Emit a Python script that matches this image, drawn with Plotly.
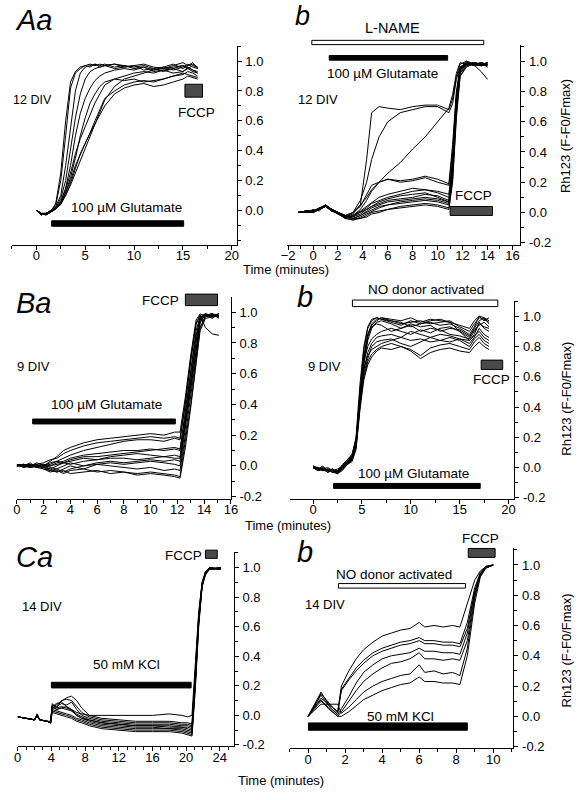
import plotly.graph_objects as go

W, H = 584, 800
FONT = "Liberation Sans, Arial, sans-serif"

# ---------------- DATA ----------------
# Panel Aa (12 DIV, 100 uM glutamate)
t_Aa = [0, 0.5, 1, 1.5, 2, 2.5, 3, 3.5, 4, 4.5, 5, 5.5, 6, 6.5, 7, 8, 9, 10, 11, 12, 13, 14, 15, 15.5, 16, 16.5]
y_Aa = [
    [0, -0.02, -0.03, -0.01, 0.05, 0.25, 0.6, 0.86, 0.93, 0.96, 0.97, 0.98, 0.97, 0.98, 0.97, 0.98, 0.96, 0.97, 0.98, 0.96, 0.95, 0.97, 0.99, 0.97, 0.98, 0.96],
    [0, -0.02, -0.02, 0.0, 0.04, 0.2, 0.5, 0.82, 0.92, 0.95, 0.97, 0.96, 0.98, 0.97, 0.98, 0.96, 0.97, 0.95, 0.96, 0.94, 0.96, 0.98, 0.95, 0.97, 0.99, 0.95],
    [0, -0.03, -0.02, 0.0, 0.03, 0.1, 0.3, 0.55, 0.8, 0.92, 0.96, 0.97, 0.98, 0.96, 0.97, 0.98, 0.97, 0.96, 0.97, 0.95, 0.96, 0.94, 0.96, 0.98, 0.96, 0.95],
    [0, -0.02, -0.03, -0.01, 0.02, 0.08, 0.2, 0.42, 0.62, 0.78, 0.88, 0.93, 0.95, 0.96, 0.97, 0.95, 0.96, 0.97, 0.94, 0.95, 0.93, 0.95, 0.97, 0.96, 0.94, 0.93],
    [0, -0.02, -0.02, 0.0, 0.02, 0.06, 0.15, 0.3, 0.5, 0.65, 0.75, 0.82, 0.87, 0.9, 0.92, 0.94, 0.95, 0.94, 0.96, 0.93, 0.94, 0.92, 0.93, 0.95, 0.93, 0.92],
    [0, -0.03, -0.02, -0.01, 0.01, 0.05, 0.12, 0.22, 0.35, 0.5, 0.62, 0.72, 0.78, 0.83, 0.86, 0.88, 0.87, 0.88, 0.86, 0.87, 0.88, 0.9, 0.92, 0.91, 0.9, 0.89],
    [0, -0.02, -0.03, 0.0, 0.02, 0.06, 0.14, 0.25, 0.38, 0.48, 0.56, 0.64, 0.72, 0.78, 0.84, 0.88, 0.9, 0.92, 0.93, 0.92, 0.94, 0.95, 0.93, 0.96, 0.94, 0.92],
    [0, -0.02, -0.02, -0.01, 0.01, 0.04, 0.1, 0.18, 0.28, 0.38, 0.45, 0.52, 0.58, 0.64, 0.7, 0.78, 0.82, 0.84, 0.85, 0.83, 0.84, 0.86, 0.88, 0.9, 0.89, 0.88],
    [0, -0.03, -0.02, 0.0, 0.02, 0.05, 0.1, 0.17, 0.25, 0.34, 0.42, 0.5, 0.58, 0.66, 0.74, 0.83, 0.88, 0.9, 0.92, 0.94, 0.95, 0.96, 0.97, 0.95, 0.97, 0.96],
    [0, -0.02, -0.03, -0.01, 0.01, 0.04, 0.12, 0.2, 0.3, 0.37, 0.44, 0.52, 0.6, 0.68, 0.75, 0.8, 0.84, 0.86, 0.87, 0.86, 0.88, 0.9, 0.91, 0.93, 0.92, 0.9],
]

# Panel Ab (12 DIV, L-NAME + glutamate)
t_Ab = [-1.2, -0.5, 0, 0.5, 1, 1.5, 2, 2.6, 3.2, 3.8, 4.3, 4.7, 5.3, 6, 7, 8, 9, 10, 10.9, 11.2, 11.5, 11.8, 12.3, 13, 13.5, 14]
y_Ab = [
    [0, 0.01, 0.0, 0.02, 0.04, 0.02, 0.0, -0.03, -0.01, 0.05, 0.35, 0.66, 0.7, 0.69, 0.68, 0.7, 0.71, 0.71, 0.68, 0.75, 0.9, 0.98, 1.0, 0.98, 0.99, 0.98],
    [0, 0.0, 0.01, 0.02, 0.05, 0.02, -0.01, -0.02, 0.0, 0.08, 0.2, 0.35, 0.5, 0.6, 0.66, 0.68, 0.7, 0.7, 0.66, 0.72, 0.88, 0.96, 0.99, 0.97, 0.93, 0.88],
    [0, 0.01, 0.0, 0.03, 0.04, 0.01, 0.0, -0.03, 0.0, 0.05, 0.1, 0.15, 0.2, 0.26, 0.33, 0.42, 0.5, 0.6, 0.69, 0.78, 0.92, 0.99, 0.98, 0.99, 0.97, 0.98],
    [0, 0.0, 0.02, 0.01, 0.05, 0.02, -0.01, -0.02, 0.0, 0.04, 0.12, 0.18, 0.2, 0.22, 0.21, 0.22, 0.24, 0.22, 0.19, 0.45, 0.8, 0.96, 0.99, 0.97, 0.98, 0.99],
    [0, 0.01, 0.0, 0.02, 0.04, 0.01, 0.0, -0.04, -0.02, 0.02, 0.08, 0.14, 0.2, 0.22, 0.2, 0.21, 0.23, 0.2, 0.18, 0.4, 0.78, 0.95, 1.0, 0.98, 0.97, 0.99],
    [0, 0.01, 0.01, 0.02, 0.05, 0.02, 0.0, -0.03, -0.03, 0.0, 0.03, 0.06, 0.08, 0.1, 0.12, 0.14, 0.15, 0.13, 0.1, 0.35, 0.75, 0.95, 0.98, 0.99, 0.98, 0.97],
    [0, 0.0, 0.01, 0.03, 0.04, 0.01, -0.01, -0.04, -0.02, 0.0, 0.02, 0.04, 0.06, 0.08, 0.09, 0.1, 0.12, 0.11, 0.08, 0.3, 0.72, 0.94, 0.99, 0.98, 0.99, 0.98],
    [0, 0.01, 0.0, 0.02, 0.05, 0.02, 0.0, -0.02, -0.04, -0.02, 0.0, 0.02, 0.04, 0.05, 0.07, 0.08, 0.09, 0.08, 0.06, 0.28, 0.7, 0.93, 0.98, 0.99, 0.97, 0.99],
    [0, 0.0, 0.01, 0.02, 0.04, 0.02, -0.01, -0.03, -0.05, -0.03, -0.01, 0.01, 0.03, 0.05, 0.06, 0.07, 0.08, 0.07, 0.05, 0.25, 0.68, 0.92, 0.97, 0.98, 0.99, 0.97],
    [0, 0.01, 0.0, 0.03, 0.05, 0.01, 0.0, -0.03, -0.04, -0.04, -0.02, 0.0, 0.01, 0.02, 0.04, 0.05, 0.06, 0.05, 0.03, 0.22, 0.65, 0.9, 0.96, 0.99, 0.98, 0.98],
    [0, 0.0, 0.01, 0.02, 0.04, 0.02, 0.0, -0.02, -0.03, -0.01, 0.02, 0.04, 0.07, 0.09, 0.11, 0.12, 0.13, 0.1, 0.07, 0.3, 0.73, 0.95, 0.99, 0.97, 0.98, 0.99],
    [0, 0.01, 0.01, 0.02, 0.05, 0.02, -0.01, -0.04, -0.05, -0.04, -0.03, -0.01, 0.0, 0.02, 0.03, 0.04, 0.05, 0.04, 0.02, 0.2, 0.62, 0.9, 0.97, 0.98, 0.97, 0.99],
    [0, 0.0, 0.0, 0.03, 0.04, 0.01, 0.0, -0.03, -0.02, 0.01, 0.04, 0.07, 0.1, 0.12, 0.14, 0.16, 0.15, 0.14, 0.12, 0.35, 0.76, 0.96, 0.99, 0.98, 0.99, 0.96],
    [0, 0.01, 0.0, 0.02, 0.05, 0.02, 0.0, -0.02, -0.04, -0.02, 0.01, 0.03, 0.05, 0.07, 0.08, 0.09, 0.1, 0.09, 0.07, 0.27, 0.7, 0.93, 0.98, 0.99, 0.98, 0.97],
]

# Panel Ba (9 DIV, glutamate)
t_Ba = [0, 0.5, 1, 1.5, 2, 2.5, 3, 3.5, 4, 5, 6, 7, 8, 9, 10, 11, 11.8, 12.2, 12.6, 13.0, 13.4, 13.7, 14.1, 14.6, 15.1]
y_Ba = [
    [0.01, 0.0, 0.02, -0.01, 0.0, 0.03, 0.06, 0.1, 0.12, 0.15, 0.17, 0.18, 0.19, 0.2, 0.21, 0.2, 0.22, 0.22, 0.45, 0.72, 0.95, 0.99, 0.97, 0.99, 0.98],
    [0.0, 0.01, 0.0, 0.01, 0.02, 0.04, 0.05, 0.08, 0.1, 0.13, 0.15, 0.16, 0.17, 0.18, 0.19, 0.18, 0.19, 0.18, 0.42, 0.7, 0.93, 0.98, 0.99, 0.96, 0.99],
    [0.01, -0.01, 0.0, 0.02, 0.0, 0.01, 0.03, 0.05, 0.07, 0.1, 0.12, 0.14, 0.16, 0.17, 0.17, 0.16, 0.18, 0.17, 0.4, 0.68, 0.92, 0.98, 0.9, 0.86, 0.85],
    [0.0, 0.01, -0.01, 0.0, 0.01, 0.0, 0.02, 0.03, 0.05, 0.07, 0.08, 0.09, 0.1, 0.1, 0.11, 0.1, 0.11, 0.1, 0.35, 0.62, 0.88, 0.97, 0.98, 0.99, 0.97],
    [0.0, 0.0, 0.01, -0.01, 0.0, 0.02, 0.03, 0.02, 0.04, 0.06, 0.06, 0.07, 0.08, 0.09, 0.1, 0.11, 0.12, 0.11, 0.33, 0.6, 0.85, 0.96, 0.99, 0.97, 0.98],
    [0.01, 0.0, 0.0, 0.01, -0.01, 0.0, 0.01, 0.02, 0.03, 0.05, 0.04, 0.06, 0.07, 0.08, 0.07, 0.06, 0.07, 0.06, 0.3, 0.55, 0.8, 0.95, 0.99, 0.98, 0.97],
    [0.0, 0.01, 0.0, -0.01, 0.0, -0.02, 0.0, 0.02, 0.01, 0.03, 0.04, 0.05, 0.05, 0.04, 0.05, 0.06, 0.05, 0.05, 0.28, 0.52, 0.78, 0.94, 0.98, 0.99, 0.96],
    [0.0, 0.0, -0.01, 0.0, 0.01, -0.01, -0.02, 0.0, 0.02, 0.0, 0.01, 0.02, 0.01, 0.02, 0.03, 0.02, 0.01, 0.0, 0.25, 0.5, 0.75, 0.93, 0.99, 0.97, 0.98],
    [0.01, -0.01, 0.0, 0.01, -0.02, -0.03, -0.04, -0.02, 0.0, -0.02, 0.01, 0.0, -0.01, -0.02, -0.01, -0.03, -0.02, -0.03, 0.2, 0.45, 0.7, 0.9, 0.98, 0.99, 0.97],
    [0.0, 0.0, 0.01, -0.01, -0.02, -0.04, -0.03, -0.05, -0.03, -0.02, -0.04, -0.03, -0.04, -0.05, -0.04, -0.05, -0.06, -0.07, 0.15, 0.4, 0.68, 0.9, 0.97, 0.98, 0.99],
    [0.01, 0.0, -0.01, 0.0, -0.01, -0.02, -0.04, -0.03, -0.05, -0.04, -0.03, -0.05, -0.04, -0.06, -0.05, -0.06, -0.07, -0.08, 0.12, 0.38, 0.65, 0.88, 0.96, 0.97, 0.98],
    [0.0, 0.01, 0.0, 0.0, -0.01, -0.03, -0.02, -0.04, -0.02, 0.0, 0.02, 0.03, 0.02, 0.03, 0.04, 0.03, 0.04, 0.03, 0.28, 0.55, 0.82, 0.96, 0.98, 0.97, 0.99],
]

# Panel Bb (9 DIV, NO donor + glutamate)
t_Bb = [0, 0.5, 1, 1.5, 2, 2.5, 3, 3.5, 4, 4.4, 4.8, 5.2, 5.6, 6, 6.5, 7, 8, 9, 10, 11, 12, 13, 14, 15, 16, 16.5, 17, 17.5, 18]
y_Bb = [
    [0, -0.01, 0.01, -0.02, -0.01, -0.03, 0.02, 0.05, 0.08, 0.2, 0.55, 0.8, 0.93, 0.98, 0.99, 0.98, 0.97, 0.95, 0.96, 0.97, 0.95, 0.96, 0.97, 0.93, 0.9, 0.95, 0.99, 0.98, 0.96],
    [0, 0.0, -0.02, -0.01, -0.03, -0.02, 0.0, 0.04, 0.07, 0.18, 0.5, 0.78, 0.92, 0.97, 0.99, 0.98, 0.96, 0.94, 0.97, 0.95, 0.96, 0.94, 0.95, 0.92, 0.88, 0.93, 1.0, 0.97, 0.99],
    [0.01, -0.01, 0.0, -0.03, -0.02, -0.04, -0.01, 0.02, 0.06, 0.15, 0.45, 0.72, 0.88, 0.95, 0.98, 0.99, 0.97, 0.96, 0.93, 0.95, 0.97, 0.98, 0.96, 0.9, 0.86, 0.92, 0.97, 0.99, 0.95],
    [0, -0.02, -0.01, 0.0, -0.02, -0.03, 0.01, 0.03, 0.05, 0.14, 0.42, 0.68, 0.84, 0.92, 0.96, 0.97, 0.95, 0.92, 0.94, 0.9, 0.92, 0.91, 0.88, 0.87, 0.85, 0.9, 0.95, 0.93, 0.92],
    [0, 0.0, -0.01, -0.02, -0.03, -0.02, 0.0, 0.03, 0.06, 0.16, 0.48, 0.7, 0.8, 0.85, 0.88, 0.9, 0.92, 0.9, 0.88, 0.91, 0.89, 0.92, 0.93, 0.9, 0.84, 0.88, 0.96, 0.92, 0.9],
    [0.01, -0.01, -0.02, -0.01, -0.02, -0.04, -0.02, 0.02, 0.05, 0.13, 0.4, 0.64, 0.76, 0.82, 0.86, 0.87, 0.88, 0.86, 0.9, 0.88, 0.86, 0.88, 0.87, 0.85, 0.82, 0.86, 0.92, 0.88, 0.86],
    [0, -0.01, 0.0, -0.02, -0.01, -0.03, 0.0, 0.04, 0.08, 0.17, 0.46, 0.66, 0.74, 0.78, 0.8, 0.82, 0.84, 0.86, 0.84, 0.85, 0.83, 0.84, 0.86, 0.84, 0.8, 0.85, 0.88, 0.84, 0.82],
    [0, -0.02, -0.01, -0.03, -0.02, -0.01, 0.01, 0.05, 0.09, 0.19, 0.42, 0.6, 0.7, 0.75, 0.78, 0.8, 0.82, 0.8, 0.78, 0.74, 0.79, 0.81, 0.82, 0.8, 0.78, 0.83, 0.86, 0.82, 0.8],
    [0.01, 0.0, -0.02, -0.02, -0.03, -0.04, -0.01, 0.02, 0.04, 0.12, 0.38, 0.58, 0.68, 0.73, 0.77, 0.79, 0.78, 0.8, 0.77, 0.72, 0.76, 0.78, 0.79, 0.77, 0.76, 0.8, 0.83, 0.8, 0.78],
    [0, -0.01, -0.01, -0.02, -0.01, -0.03, 0.0, 0.03, 0.07, 0.16, 0.44, 0.7, 0.86, 0.94, 0.97, 0.99, 0.98, 0.97, 0.99, 0.96, 0.98, 0.97, 0.96, 0.94, 0.92, 0.97, 1.0, 0.99, 0.97],
    [0, 0.0, -0.02, -0.01, -0.02, -0.02, 0.01, 0.04, 0.06, 0.15, 0.47, 0.74, 0.88, 0.93, 0.95, 0.94, 0.9, 0.92, 0.95, 0.93, 0.94, 0.9, 0.92, 0.91, 0.87, 0.91, 0.94, 0.96, 0.93],
    [0.01, -0.01, -0.01, -0.03, -0.02, -0.03, -0.01, 0.03, 0.06, 0.15, 0.43, 0.62, 0.72, 0.8, 0.83, 0.84, 0.85, 0.82, 0.8, 0.83, 0.86, 0.84, 0.83, 0.85, 0.84, 0.87, 0.9, 0.86, 0.84],
]

# Panel Ca (14 DIV, 50 mM KCl)
t_Ca = [0, 1, 2, 2.3, 2.6, 3.5, 3.9, 4.1, 4.6, 5.2, 5.8, 6.4, 7, 7.6, 8.5, 10, 12, 14, 16, 18, 19.5, 20.2, 20.7, 21.1, 21.5, 21.9, 22.3, 22.8, 24.1]
y_Ca = [
    [-0.01, -0.02, -0.03, 0.0, -0.03, -0.04, -0.04, 0.06, 0.04, 0.05, 0.06, 0.04, 0.02, 0.01, 0.0, 0.0, 0.0, 0.0, 0.0, 0.01, 0.0, -0.01, 0.0, 0.35, 0.7, 0.9, 0.97, 1.0, 0.99],
    [-0.01, -0.02, -0.03, 0.0, -0.03, -0.04, -0.05, 0.05, 0.07, 0.1, 0.12, 0.13, 0.1, 0.05, 0.0, -0.02, -0.03, -0.04, -0.04, -0.04, -0.05, -0.05, -0.06, 0.3, 0.68, 0.9, 0.97, 1.0, 0.99],
    [-0.01, -0.02, -0.03, 0.0, -0.03, -0.04, -0.05, 0.08, 0.05, 0.1, 0.11, 0.1, 0.06, 0.02, -0.01, -0.03, -0.04, -0.05, -0.05, -0.05, -0.06, -0.06, -0.07, 0.28, 0.66, 0.89, 0.97, 1.0, 0.99],
    [-0.01, -0.02, -0.03, 0.01, -0.03, -0.04, -0.05, 0.07, 0.06, 0.08, 0.07, 0.09, 0.04, 0.0, -0.02, -0.04, -0.05, -0.06, -0.06, -0.06, -0.07, -0.07, -0.08, 0.26, 0.65, 0.89, 0.96, 0.99, 1.0],
    [-0.01, -0.02, -0.03, 0.0, -0.03, -0.04, -0.05, 0.06, 0.04, 0.05, 0.04, 0.03, 0.01, -0.01, -0.03, -0.05, -0.06, -0.07, -0.07, -0.07, -0.08, -0.09, -0.1, 0.24, 0.64, 0.88, 0.96, 0.99, 0.99],
    [-0.01, -0.02, -0.03, 0.0, -0.03, -0.04, -0.05, 0.04, 0.03, 0.02, 0.01, 0.0, -0.02, -0.03, -0.05, -0.07, -0.08, -0.09, -0.09, -0.09, -0.1, -0.11, -0.12, 0.22, 0.63, 0.88, 0.96, 0.99, 1.0],
    [-0.01, -0.02, -0.03, 0.01, -0.03, -0.04, -0.05, 0.05, 0.05, 0.06, 0.05, 0.04, 0.0, -0.02, -0.04, -0.06, -0.07, -0.08, -0.08, -0.09, -0.09, -0.1, -0.11, 0.23, 0.64, 0.88, 0.96, 0.99, 0.99],
    [-0.01, -0.02, -0.03, 0.0, -0.03, -0.04, -0.05, 0.03, 0.02, 0.01, 0.0, -0.01, -0.03, -0.04, -0.06, -0.08, -0.09, -0.1, -0.1, -0.1, -0.11, -0.12, -0.13, 0.2, 0.62, 0.87, 0.96, 0.99, 1.0],
    [-0.01, -0.02, -0.03, 0.0, -0.03, -0.04, -0.05, 0.06, 0.08, 0.09, 0.06, 0.03, 0.0, -0.02, -0.03, -0.05, -0.06, -0.07, -0.07, -0.08, -0.08, -0.08, -0.09, 0.25, 0.65, 0.89, 0.96, 1.0, 0.99],
    [-0.01, -0.02, -0.03, 0.0, -0.03, -0.04, -0.05, 0.02, 0.01, 0.0, -0.01, -0.02, -0.04, -0.05, -0.07, -0.09, -0.1, -0.11, -0.11, -0.11, -0.12, -0.13, -0.14, 0.18, 0.6, 0.87, 0.95, 0.99, 1.0],
]

# Panel Cb (14 DIV, NO donor + KCl)
t_Cb = [0, 0.35, 0.7, 1.1, 1.6, 1.8, 2.2, 2.6, 3, 3.5, 4, 4.5, 5, 5.5, 6, 6.3, 6.8, 7.3, 7.8, 8.2, 8.6, 9.0, 9.3, 9.6, 10]
y_Cb = [
    [0, 0.06, 0.12, 0.08, 0.03, 0.2, 0.3, 0.38, 0.44, 0.49, 0.53, 0.55, 0.57, 0.58, 0.62, 0.59, 0.6, 0.59, 0.6, 0.59, 0.75, 0.9, 0.96, 0.99, 1.0],
    [0, 0.07, 0.15, 0.09, 0.02, 0.18, 0.25, 0.32, 0.37, 0.42, 0.45, 0.47, 0.49, 0.5, 0.52, 0.5, 0.5, 0.49, 0.49, 0.48, 0.62, 0.85, 0.95, 0.99, 1.0],
    [0, 0.08, 0.16, 0.08, 0.03, 0.17, 0.24, 0.3, 0.35, 0.4, 0.43, 0.45, 0.47, 0.48, 0.5, 0.48, 0.48, 0.47, 0.47, 0.46, 0.58, 0.83, 0.94, 0.99, 1.0],
    [0, 0.07, 0.14, 0.07, 0.01, 0.05, 0.13, 0.22, 0.29, 0.34, 0.38, 0.4, 0.41, 0.42, 0.45, 0.43, 0.43, 0.42, 0.42, 0.41, 0.55, 0.82, 0.94, 0.98, 1.0],
    [0, 0.05, 0.1, 0.06, 0.0, 0.03, 0.1, 0.17, 0.23, 0.28, 0.32, 0.35, 0.36, 0.38, 0.42, 0.38, 0.38, 0.37, 0.38, 0.37, 0.5, 0.8, 0.93, 0.98, 1.0],
    [0, 0.04, 0.08, 0.08, 0.08, 0.02, 0.06, 0.11, 0.16, 0.2, 0.23, 0.25, 0.27, 0.28, 0.34, 0.29, 0.3, 0.28, 0.29, 0.27, 0.45, 0.78, 0.93, 0.98, 1.0],
    [0, 0.06, 0.11, 0.05, 0.0, 0.0, 0.03, 0.07, 0.11, 0.14, 0.17, 0.19, 0.21, 0.22, 0.26, 0.23, 0.23, 0.22, 0.22, 0.21, 0.4, 0.75, 0.92, 0.98, 1.0],
]

# Drug application periods (minutes)
glu_Aa = [1.57, 15.07]
fccp_Aa = [15.2, 17.0]
lname_Ab = [-0.1, 13.7]
glu_Ab = [1.3, 10.8]
fccp_Ab = [11.0, 14.4]
glu_Ba = [1.19, 11.85]
fccp_Ba = [12.6, 15.0]
no_Bb = [4.03, 18.9]
glu_Bb = [2.1, 17.1]
fccp_Bb = [17.2, 19.4]
kcl_Ca = [4.0, 20.6]
fccp_Ca = [22.3, 23.7]
no_Cb = [1.64, 8.5]
kcl_Cb = [0.02, 8.6]
fccp_Cb = [8.65, 10.1]

# ---------------- LAYOUT ----------------
def px(x, y):
    return x / W, 1 - y / H

# axis id, x px span, y px span, x range, y range, x dtick, x minor, show -0.2 label
panels = [
    ("", (6, 236), (46.6, 246.9), (-2.5, 20.5), (-0.23, 1.1), 5, 2.5, False, t_Aa, y_Aa),
    ("2", (287, 526), (45, 246.7), (-2.12, 16.63), (-0.212, 1.11), 2, 1, True, t_Ab, y_Ab),
    ("3", (11, 230), (300, 503), (0, 16), (-0.213, 1.097), 2, 1, True, t_Ba, y_Ba),
    ("4", (290, 520), (303.3, 503), (-2.4, 20.6), (-0.205, 1.103), 5, 2.5, True, t_Bb, y_Bb),
    ("5", (12, 233), (556.7, 752.7), (0, 25.67), (-0.208, 1.107), 4, 1, True, t_Ca, y_Ca),
    ("6", (290, 519), (553.3, 755), (-1.0, 11.09), (-0.212, 1.109), 2, 1, True, t_Cb, y_Cb),
]

fig = go.Figure()
layout = dict(
    width=W, height=H, margin=dict(l=0, r=0, t=0, b=0),
    paper_bgcolor="white", plot_bgcolor="white", showlegend=False,
    font=dict(family=FONT, size=13, color="black"),
)

for sid, xs, ys, xr, yr, dt, mn, neg, t, ylist in panels:
    for yy in ylist:
        fig.add_trace(go.Scatter(x=t, y=yy, mode="lines", line=dict(color="black", width=1),
                                 xaxis="x" + sid, yaxis="y" + sid, hoverinfo="skip"))
    xd = [xs[0] / W, xs[1] / W]
    yd = [1 - ys[1] / H, 1 - ys[0] / H]
    tv = [-0.2, 0, 0.2, 0.4, 0.6, 0.8, 1.0] if neg else [0, 0.2, 0.4, 0.6, 0.8, 1.0]
    layout["xaxis" + sid] = dict(
        domain=xd, range=list(xr), anchor="y" + sid, showline=True, linecolor="black", linewidth=1,
        ticks="outside", ticklen=4, tickcolor="black", tickwidth=1, dtick=dt, tick0=0,
        minor=dict(dtick=mn, tick0=0, ticks="outside", ticklen=3, tickcolor="black"),
        showgrid=False, zeroline=False, tickfont=dict(size=13, family=FONT), ticklabelstandoff=-5,
    )
    layout["yaxis" + sid] = dict(
        domain=yd, range=list(yr), anchor="x" + sid, side="right", showline=True, linecolor="black",
        linewidth=1, ticks="outside", ticklen=4, tickcolor="black", tickmode="array", tickvals=tv,
        ticktext=["%.1f" % v for v in tv],
        minor=dict(dtick=0.1, tick0=0, ticks="outside", ticklen=3, tickcolor="black"),
        showgrid=False, zeroline=False, tickfont=dict(size=13, family=FONT), ticklabelstandoff=1,
    )

fig.update_layout(**layout)

# drug bars: (x range, axis id, y px top, y px bottom, style)
bars = [
    (glu_Aa, "x", 222.7, 228.3, "black"), (fccp_Aa, "x", 85, 98, "hatch"),
    (lname_Ab, "x2", 40.7, 45, "open"), (glu_Ab, "x2", 56, 60.7, "black"), (fccp_Ab, "x2", 208.3, 217.3, "hatch"),
    (glu_Ba, "x3", 422.7, 427.7, "black"), (fccp_Ba, "x3", 296.7, 308.3, "hatch"),
    (no_Bb, "x4", 302.7, 309.3, "open"), (glu_Bb, "x4", 487.7, 492.7, "black"), (fccp_Bb, "x4", 363.3, 372.7, "hatch"),
    (kcl_Ca, "x5", 688.3, 694, "black"), (fccp_Ca, "x5", 555, 563.3, "hatch"),
    (no_Cb, "x6", 588.7, 593.3, "open"), (kcl_Cb, "x6", 729.3, 736.7, "black"), (fccp_Cb, "x6", 553.3, 562.3, "hatch"),
]
fills = {"black": "black", "hatch": "#4a4a4a", "open": "white"}
for xr, xa, y0, y1, st in bars:
    fig.add_shape(type="rect", xref=xa, yref="paper", x0=xr[0], x1=xr[1],
                  y0=1 - y1 / H, y1=1 - y0 / H, fillcolor=fills[st],
                  line=dict(color="black", width=1), layer="above")

# text annotations: (text, x px, y px, xanchor, size)
TS = 13.5
texts = [
    ("<i>Aa</i>", 7, 20, "left", 29), ("12 DIV", 5, 101, "left", 12.5),
    ("100 µM Glutamate", 123, 209, "center", TS), ("FCCP", 195, 113, "center", TS),
    ("<i>b</i>", 294, 16, "left", 27), ("L-NAME", 395, 28, "center", 14.5),
    ("100 µM Glutamate", 385, 74, "center", TS), ("12 DIV", 297, 100, "left", 13), ("FCCP", 478, 197, "center", TS),
    ("<i>Ba</i>", 8, 306, "left", 29), ("FCCP", 158, 303, "center", TS), ("9 DIV", 9, 370, "left", 13),
    ("100 µM Glutamate", 103, 408, "center", TS),
    ("<i>b</i>", 296, 300, "left", 29), ("NO donor activated", 430, 292, "center", TS),
    ("9 DIV", 307, 370, "left", 13), ("FCCP", 497, 383, "center", TS), ("100 µM Glutamate", 417, 478, "center", TS),
    ("<i>Ca</i>", 8, 562, "left", 29), ("FCCP", 182, 560, "center", TS), ("14 DIV", 14, 612, "left", 13),
    ("50 mM KCl", 123, 670, "center", TS),
    ("<i>b</i>", 296, 557, "left", 29), ("FCCP", 485, 543, "center", TS), ("NO donor activated", 397, 580, "center", TS),
    ("14 DIV", 304, 610, "left", 13), ("50 mM KCl", 403, 723, "center", TS),
    ("Time (minutes)", 286, 272, "center", 13), ("Time (minutes)", 288, 530, "center", 13),
    ("Time (minutes)", 281, 787, "center", 13),
]
for txt, x, y, xa, sz in texts:
    fx, fy = px(x, y)
    fig.add_annotation(text=txt, x=fx, y=fy, xref="paper", yref="paper", xanchor=xa, yanchor="middle",
                       showarrow=False, font=dict(size=sz, family=FONT, color="black"))

for yc in (137, 402, 656):
    fx, fy = px(573, yc)
    fig.add_annotation(text="Rh123 (F-F0/Fmax)", x=fx, y=fy, xref="paper", yref="paper", textangle=-90,
                       xanchor="center", yanchor="middle", showarrow=False,
                       font=dict(size=13, family=FONT, color="black"))

fig.write_html(
    "out.html",
    config={"displayModeBar": False, "staticPlot": True},
    post_script="document.body.style.margin='0px';document.body.style.padding='0px';"
                "document.documentElement.style.overflow='hidden';",
)
